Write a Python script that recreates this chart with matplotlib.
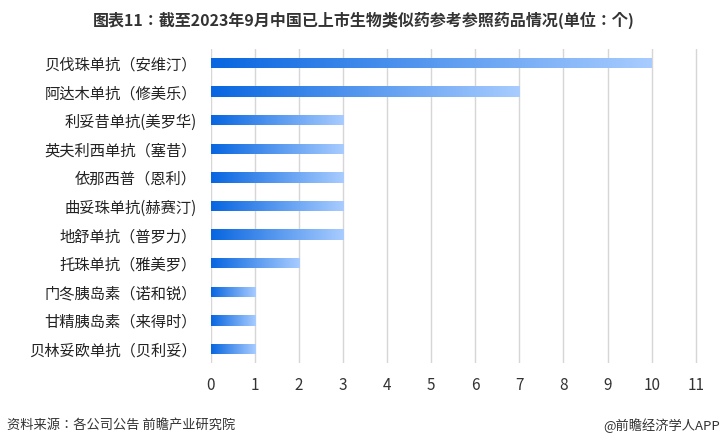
import matplotlib.pyplot as plt
import numpy as np
from matplotlib import font_manager
from matplotlib.colors import LinearSegmentedColormap

cands = [f for f in font_manager.findSystemFonts() if 'CJK' in f or 'cjk' in f.lower()]
for f in cands:
    try:
        font_manager.fontManager.addfont(f)
    except Exception:
        pass
names = sorted({font_manager.FontProperties(fname=f).get_name() for f in cands})
cjk = next((n for n in names if 'SC' in n), names[0] if names else 'DejaVu Sans')
plt.rcParams['font.family'] = [cjk, 'DejaVu Sans']

drugs = ['贝伐珠单抗（安维汀）', '阿达木单抗（修美乐）', '利妥昔单抗(美罗华)', '英夫利西单抗（塞昔）',
         '依那西普（恩利）', '曲妥珠单抗(赫赛汀)', '地舒单抗（普罗力）', '托珠单抗（雅美罗）',
         '门冬胰岛素（诺和锐）', '甘精胰岛素（来得时）', '贝林妥欧单抗（贝利妥）']
counts = [10, 7, 3, 3, 3, 3, 3, 2, 1, 1, 1]
xticks = list(range(12))


def main():
    fig = plt.figure(figsize=(7.27, 4.43), dpi=100)
    ax = fig.add_axes([0.29, 0.18, 0.67, 0.71])
    cmap = LinearSegmentedColormap.from_list('g', ['#0866e0', '#a8ccff'])
    grad = np.linspace(0, 1, 256).reshape(1, -1)

    y = np.arange(len(drugs))
    h = 0.36
    for yi, v in zip(y, counts):
        bar = ax.barh(yi, v, height=h, color='none', edgecolor='none', zorder=2)[0]
        im = ax.imshow(grad, cmap=cmap, aspect='auto', zorder=2,
                       extent=[0, v, yi - h / 2, yi + h / 2])
        im.set_clip_path(bar)

    ax.set_xlim(0, 11.05)
    ax.set_ylim(len(drugs) - 0.5, -0.5)
    ax.set_xticks(xticks)
    ax.set_yticks(y)
    ax.set_yticklabels(drugs, fontsize=11, color='#222222')
    ax.tick_params(axis='x', labelsize=11, colors='#333333', length=0, pad=10)
    ax.tick_params(axis='y', length=0, pad=10)
    ax.grid(axis='x', color='#d6d6d6', linewidth=1, zorder=0)
    for s in ax.spines.values():
        s.set_visible(False)

    fig.text(0.5, 0.955, '图表11：截至2023年9月中国已上市生物类似药参考参照药品情况(单位：个)',
             ha='center', va='center', fontsize=11.5, fontweight='bold', color='#333333')
    fig.text(0.01, 0.03, '资料来源：各公司公告 前瞻产业研究院', fontsize=9.5, color='#333333')
    fig.text(0.99, 0.03, '@前瞻经济学人APP', fontsize=9.5, color='#333333', ha='right')
    fig.savefig('out.png', dpi=100)


if __name__ == '__main__':
    main()
